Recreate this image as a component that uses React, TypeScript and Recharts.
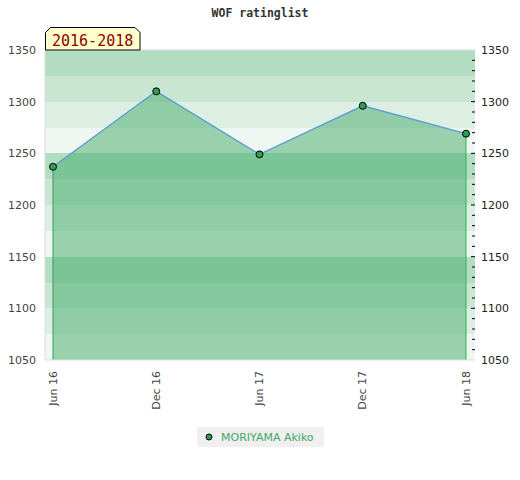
import {
  Area,
  AreaChart,
  CartesianGrid,
  Legend,
  ReferenceLine,
  XAxis,
  YAxis,
} from "recharts"

const chartTitle = "WOF ratinglist"
const rangeLabel = "2016-2018"
const playerName = "MORIYAMA Akiko"

const periods = ["Jun 16", "Dec 16", "Jun 17", "Dec 17", "Jun 18"]
const ratings = [1237, 1310, 1249, 1296, 1269]

const ratingDomain = [1050, 1350]
const bandTicks = [
  1350, 1325, 1300, 1275, 1250, 1225, 1200, 1175, 1150, 1125, 1100, 1075, 1050,
]
const minorTicks = Array.from({ length: 31 }, (_, i) => 1050 + i * 10)

const bandColors = ["#b3ddc1", "#c9e6d3", "#dcefe2", "#eef7f1"]

const data = periods.map((label, i) => ({ label, rating: ratings[i] }))

const font = "'DejaVu Sans', sans-serif"

// right axis: short dashes inside the plot every 10, labels every 50
const RightTick = ({ x, y, payload }: any) => {
  const v = payload.value
  const major = v % 50 === 0
  const edge = v === ratingDomain[0] || v === ratingDomain[1]
  return (
    <g>
      {!edge && (
        <line x1={x - (major ? 4 : 3)} x2={x} y1={y} y2={y} stroke="#000" />
      )}
      {major && (
        <text x={x + 6} y={y} dy="0.36em" fontSize={11} fontFamily={font} fill="#222">
          {v}
        </text>
      )}
    </g>
  )
}

const PeriodTick = ({ x, y, payload }: any) => (
  <g transform={`translate(${x},${y}) rotate(-90)`}>
    <text x={0} y={0} dy={3.5} textAnchor="end" fontSize={11} fontFamily={font} fill="#444">
      {payload.value}
    </text>
  </g>
)

const renderLegend = () => (
  <div
    style={{
      background: "#f0f0f0",
      width: 127,
      height: 20,
      display: "flex",
      alignItems: "center",
      fontFamily: font,
      fontSize: 11,
      color: "#3fa866",
    }}
  >
    <svg width={24} height={20}>
      <circle cx={12} cy={10} r={3} fill="#2f9e55" stroke="#000" />
    </svg>
    <span>{playerName}</span>
  </div>
)

export default function App() {
  const last = periods.length - 1
  return (
    <div style={{ position: "absolute", left: 0, top: 0, width: 520, height: 480, background: "#fff" }}>
      <AreaChart
        width={520}
        height={480}
        data={data}
        margin={{ top: 50, right: 0, bottom: 0, left: 0 }}
      >
        <CartesianGrid
          yAxisId="left"
          vertical={false}
          stroke="none"
          horizontalFill={bandColors}
        />
        <XAxis
          dataKey="label"
          padding={{ left: 8, right: 9 }}
          height={120}
          tickSize={0}
          tickMargin={11}
          tickLine={false}
          interval={0}
          axisLine={{ stroke: "#dddddd" }}
          tick={<PeriodTick />}
        />
        <YAxis
          yAxisId="left"
          orientation="left"
          width={45}
          domain={ratingDomain}
          allowDataOverflow
          ticks={bandTicks}
          interval={0}
          tickSize={0}
          tickMargin={9}
          tickLine={false}
          axisLine={{ stroke: "#dddddd" }}
          tickFormatter={(v: number) => (v % 50 === 0 ? String(v) : "")}
          tick={{ fontSize: 11, fontFamily: font, fill: "#444" }}
        />
        <YAxis
          yAxisId="right"
          orientation="right"
          width={45}
          domain={ratingDomain}
          allowDataOverflow
          ticks={minorTicks}
          interval={0}
          tickSize={0}
          tickMargin={0}
          tickLine={false}
          axisLine={false}
          tick={<RightTick />}
        />
        {/* invisible copy so the right axis has a series bound to it */}
        <Area
          yAxisId="right"
          type="linear"
          dataKey="rating"
          stroke="none"
          fill="none"
          dot={false}
          activeDot={false}
          legendType="none"
          isAnimationActive={false}
        />
        <Area
          yAxisId="left"
          type="linear"
          dataKey="rating"
          name={playerName}
          stroke="#5b9bd5"
          strokeWidth={1.3}
          fill="#44ab69"
          fillOpacity={0.5}
          dot={{ r: 3.5, fill: "#2f9e55", stroke: "#000", strokeWidth: 1, fillOpacity: 1 }}
          activeDot={false}
          isAnimationActive={false}
        />
        <ReferenceLine
          yAxisId="left"
          segment={[
            { x: periods[0], y: ratingDomain[0] },
            { x: periods[0], y: ratings[0] },
          ]}
          stroke="#3a9a5a"
        />
        <ReferenceLine
          yAxisId="left"
          segment={[
            { x: periods[last], y: ratingDomain[0] },
            { x: periods[last], y: ratings[last] },
          ]}
          stroke="#2fb456"
        />
        <ReferenceLine yAxisId="left" y={ratingDomain[1]} stroke="#dddddd" />
        <Legend
          layout="horizontal"
          verticalAlign="middle"
          align="center"
          content={renderLegend}
          wrapperStyle={{ top: 427, left: 197, width: 127, height: 20 }}
        />
      </AreaChart>
      <svg
        width={520}
        height={60}
        style={{ position: "absolute", left: 0, top: 0, pointerEvents: "none" }}
      >
        <text
          x={260}
          y={17}
          textAnchor="middle"
          fontFamily="'DejaVu Sans Mono', monospace"
          fontWeight="bold"
          fontSize={11.5}
          fill="#333"
        >
          {chartTitle}
        </text>
        <path
          d="M45.5,50 V32.5 L50.5,27.5 H135 L140,32.5 V50 Z"
          fill="#ffffcc"
          stroke="#000"
        />
        <text
          x={52}
          y={45.5}
          fontFamily="'DejaVu Sans Mono', monospace"
          fontSize={15}
          fill="#8b0000"
        >
          {rangeLabel}
        </text>
      </svg>
    </div>
  )
}
